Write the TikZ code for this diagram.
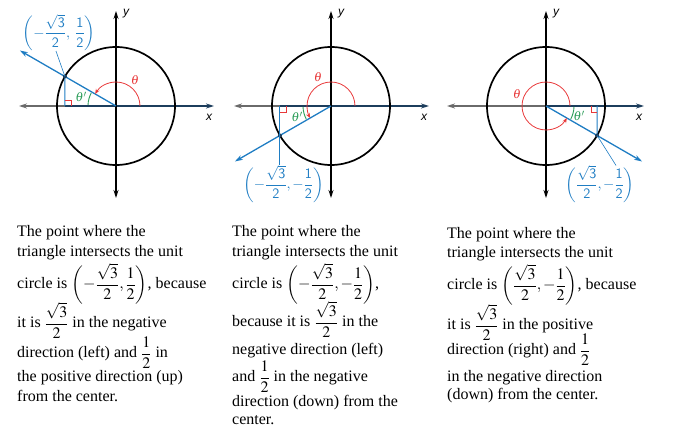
\documentclass[tikz,border=0pt]{standalone}
\usepackage{amsmath}
\usepackage{mathptmx}
\usepackage{fontspec}
\setmainfont{Liberation Serif}
\setsansfont{Liberation Sans}
\usetikzlibrary{arrows.meta}
\definecolor{rayblue}{HTML}{1F7DC3}
\definecolor{initnavy}{HTML}{1C3D5C}
\definecolor{anglered}{HTML}{E8393A}
\definecolor{primegreen}{HTML}{2E9E5B}
\definecolor{axisgray}{HTML}{6A6A6A}
\tikzset{
  axisline/.style={line width=1.1pt},
  tip/.style={-{Stealth[length=8pt,width=5pt]}},
  bothtips/.style={{Stealth[length=8pt,width=5pt]}-{Stealth[length=8pt,width=5pt]}},
  initside/.style={initnavy, line width=2.2pt},
  unitcircle/.style={line width=1.7pt},
  rayline/.style={rayblue, line width=1.3pt},
  legline/.style={rayblue, line width=1pt},
  leader/.style={rayblue, line width=0.6pt},
  rightmark/.style={anglered, line width=0.8pt},
  thetaarc/.style={anglered, line width=0.8pt, -{Stealth[length=5pt,width=4pt]}},
  primearc/.style={primegreen, line width=0.9pt},
  axislabel/.style={font=\fontsize{12}{12}\selectfont\sffamily\itshape},
  thetalabel/.style={anglered, font=\fontsize{13}{13}\selectfont},
  primelabel/.style={primegreen, font=\fontsize{13}{13}\selectfont},
  coordlabel/.style={rayblue, inner sep=0pt, font=\fontsize{14.5}{14.5}\selectfont},
  textline/.style={anchor=base west, inner sep=0pt, font=\fontsize{16}{19}\selectfont}
}
\begin{document}
\begin{tikzpicture}[x=1pt,y=1pt]
  \useasboundingbox (0,0) rectangle (678,436);

  %%%%% LEFT: 150 degrees %%%%%
  \begin{scope}[shift={(116,330)}]
    \coordinate (O1) at (0,0);
    \coordinate (P1) at (150:59);
    \coordinate (E1) at (150:111);
    \coordinate (F1) at (-51.1,0);
    \draw[axisline, axisgray, tip] (O1) -- (-97,0);
    \draw[initside] (F1) -- (O1);
    \draw[initside, tip] (O1) -- (98,0);
    \draw[axisline, bothtips] (0,-92) -- (0,95);
    \draw[unitcircle] (O1) circle (59);
    \draw[rayline, tip] (O1) -- (E1);
    \draw[legline] (P1) -- (F1);
    \draw[rightmark] (F1) ++(0,6) -| ++(6,-6);
    \draw[thetaarc] (24,0) arc (0:150:24);
    \draw[primearc] (152:28) arc (152:178:28);
    \fill[initnavy] (P1) circle (2);
    \node[axislabel] (x1) at (93,-11) {x};
    \node[axislabel] (y1) at (10,92) {y};
    \node[thetalabel] (th1) at (19,26) {$\theta$};
    \node[primelabel] (pr1) at (-35,9) {$\theta'$};
    \node[coordlabel] (L1) at (-57,73.5)
      {$\displaystyle\biggl(-\frac{\sqrt{\mathsf{3}}}{\mathsf{2}},\ \frac{\mathsf{1}}{\mathsf{2}}\biggr)$};
    \draw[leader] (P1) -- ([xshift=-3pt]L1.south);
  \end{scope}

  %%%%% MIDDLE: 210 degrees %%%%%
  \begin{scope}[shift={(331,330)}]
    \coordinate (O2) at (0,0);
    \coordinate (P2) at (210:59);
    \coordinate (E2) at (210:111);
    \coordinate (F2) at (-51.1,0);
    \draw[axisline, axisgray, tip] (O2) -- (-97,0);
    \draw[initside] (F2) -- (O2);
    \draw[initside, tip] (O2) -- (98,0);
    \draw[axisline, bothtips] (0,-92) -- (0,95);
    \draw[unitcircle] (O2) circle (59);
    \draw[rayline, tip] (O2) -- (E2);
    \draw[rightmark] (F2) ++(0,-6) -| ++(6,6);
    \draw[thetaarc] (24,0) arc (0:210:24);
    \draw[primearc] (182:28) arc (182:208:28);
    \fill[initnavy] (P2) circle (2);
    \node[axislabel] (x2) at (93,-11) {x};
    \node[axislabel] (y2) at (10,92) {y};
    \node[thetalabel] (th2) at (-13,29) {$\theta$};
    \node[primelabel] (pr2) at (-34,-11) {$\theta'$};
    \node[coordlabel] (L2) at (-47.5,-78)
      {$\displaystyle\biggl(-\frac{\sqrt{\mathsf{3}}}{\mathsf{2}},-\frac{\mathsf{1}}{\mathsf{2}}\biggr)$};
    \draw[legline] (F2) -- (F2 |- L2.north);
  \end{scope}

  %%%%% RIGHT: 330 degrees %%%%%
  \begin{scope}[shift={(546,330)}]
    \coordinate (O3) at (0,0);
    \coordinate (P3) at (330:59);
    \coordinate (E3) at (330:111);
    \coordinate (F3) at (51.1,0);
    \draw[axisline, axisgray, tip] (O3) -- (-99,0);
    \draw[initside, tip] (O3) -- (98,0);
    \draw[axisline, bothtips] (0,-92) -- (0,95);
    \draw[unitcircle] (O3) circle (59);
    \draw[rayline, tip] (O3) -- (E3);
    \draw[legline] (P3) -- (F3);
    \draw[rightmark] (F3) ++(0,-6) -| ++(-6,6);
    \draw[thetaarc] (24,0) arc (0:330:24);
    \draw[primearc] (-28:28) arc (-28:-2:28);
    \fill[initnavy] (P3) circle (2);
    \node[axislabel] (x3) at (93,-11) {x};
    \node[axislabel] (y3) at (10,92) {y};
    \node[thetalabel] (th3) at (-29,12) {$\theta$};
    \node[primelabel] (pr3) at (33,-10) {$\theta'$};
    \node[coordlabel] (L3) at (54,-78)
      {$\displaystyle\biggl(\frac{\sqrt{\mathsf{3}}}{\mathsf{2}},-\frac{\mathsf{1}}{\mathsf{2}}\biggr)$};
    \draw[leader] (P3) -- ([xshift=16pt]L3.north);
  \end{scope}

  %%%%% TEXT %%%%%
  \node[textline] (a1) at (17,199) {The point where the};
  \node[textline] (a2) at (17,179) {triangle intersects the unit};
  \node[textline] (a3) at (17,147) {circle is $\biggl(-\dfrac{\sqrt{3}}{2},\dfrac{1}{2}\biggr)$, because};
  \node[textline] (a4) at (17,108) {it is $\dfrac{\sqrt{3}}{2}$ in the negative};
  \node[textline] (a5) at (17,78) {direction (left) and $\dfrac{1}{2}$ in};
  \node[textline] (a6) at (17,54) {the positive direction (up)};
  \node[textline] (a7) at (17,34) {from the center.};

  \node[textline] (b1) at (232,199) {The point where the};
  \node[textline] (b2) at (232,179) {triangle intersects the unit};
  \node[textline] (b3) at (232,147) {circle is $\biggl(-\dfrac{\sqrt{3}}{2},-\dfrac{1}{2}\biggr)$,};
  \node[textline] (b4) at (232,109) {because it is $\dfrac{\sqrt{3}}{2}$ in the};
  \node[textline] (b5) at (232,81) {negative direction (left)};
  \node[textline] (b6) at (232,54) {and $\dfrac{1}{2}$ in the negative};
  \node[textline] (b7) at (232,29) {direction (down) from the};
  \node[textline] (b8) at (232,11) {center.};

  \node[textline] (c1) at (447,197) {The point where the};
  \node[textline] (c2) at (447,178.5) {triangle intersects the unit};
  \node[textline] (c3) at (447,146) {circle is $\biggl(\dfrac{\sqrt{3}}{2},-\dfrac{1}{2}\biggr)$, because};
  \node[textline] (c4) at (447,106) {it is $\dfrac{\sqrt{3}}{2}$ in the positive};
  \node[textline] (c5) at (447,81) {direction (right) and $\dfrac{1}{2}$};
  \node[textline] (c6) at (447,54.5) {in the negative direction};
  \node[textline] (c7) at (447,36) {(down) from the center.};
\end{tikzpicture}
\end{document}
